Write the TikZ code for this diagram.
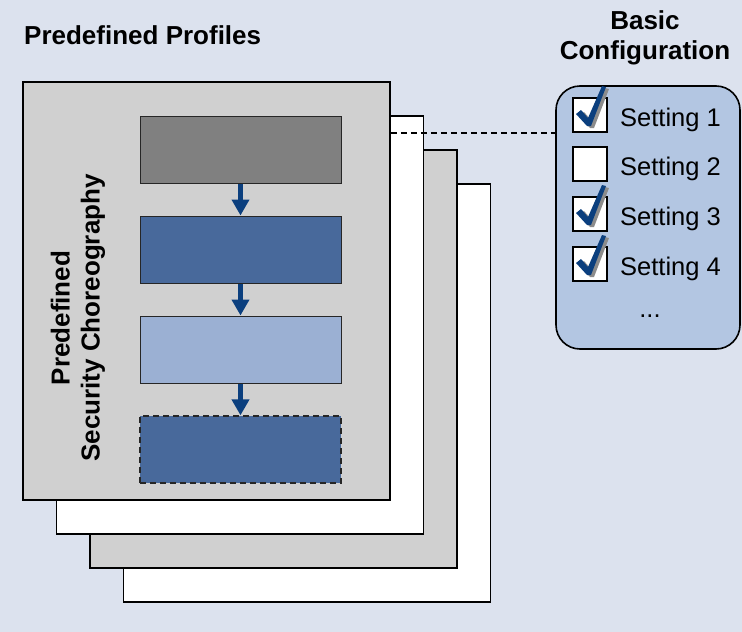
\documentclass[tikz,border=0pt]{standalone}
\usepackage{fontspec}
\setmainfont{Liberation Sans}
\usetikzlibrary{arrows.meta}
\definecolor{bgblue}{HTML}{DCE2EE}
\definecolor{pagegray}{HTML}{D0D0D0}
\definecolor{stepgray}{HTML}{808080}
\definecolor{stepblue}{HTML}{48699B}
\definecolor{steplight}{HTML}{9BB0D3}
\definecolor{navy}{HTML}{0B3F7E}
\definecolor{cfgblue}{HTML}{B3C6E2}
\tikzset{
  page/.style={draw=black, line width=1.6pt, minimum width=367pt, minimum height=418pt, inner sep=0pt},
  stepbox/.style={draw=black!85, line width=1pt, minimum width=201pt, minimum height=67pt, inner sep=0pt},
  flow/.style={navy, line width=4.5pt, -{Triangle[width=17pt,length=16pt]}},
  title/.style={font=\bfseries\fontsize{26}{30}\selectfont, align=center},
  tick/.style={draw=black, line width=1.5pt, fill=white, minimum size=34pt, inner sep=0pt},
  label/.style={anchor=base west, font=\fontsize{25.5}{30}\selectfont, inner sep=0pt},
  checkmark/.pic={
    \fill[black!45] (-11,1) -- (-6,-3) -- (1,5) -- (15,-27) -- (19,-26) -- (4,13) -- (0,13) -- cycle;
    \fill[navy] (-14,-1) -- (-9,-5) -- (-2,3) -- (12,-29) -- (16,-28) -- (1,11) -- (-3,11) -- cycle;
  }
}
\begin{document}
\begin{tikzpicture}[x=1pt,y=-1pt]
  \fill[bgblue] (0,0) rectangle (742,632);
  \useasboundingbox (0,0) rectangle (742,632);

  % stack of profile pages, back to front
  \node[page, fill=white]    (p4) at (307.0,393.0) {};
  \node[page, fill=pagegray] (p3) at (273.5,359.0) {};
  \node[page, fill=white]    (p2) at (240.0,325.0) {};
  \node[page, fill=pagegray] (p1) at (206.5,291.0) {};

  \node[title, anchor=base west, inner sep=0pt] (ptitle) at (24,44) {Predefined Profiles};

  % choreography steps
  \node[stepbox, fill=stepgray]  (s1) at (240.5,149.5) {};
  \node[stepbox, fill=stepblue]  (s2) at (240.5,249.5) {};
  \node[stepbox, fill=steplight] (s3) at (240.5,349.5) {};
  \node[stepbox, fill=stepblue, dashed, dash pattern=on 6pt off 4pt, line width=1.3pt] (s4) at (240.5,449.5) {};
  \draw[flow] (s1) -- (s2);
  \draw[flow] (s2) -- (s3);
  \draw[flow] (s3) -- (s4);

  \node[rotate=90, align=center, font=\bfseries\fontsize{26}{30}\selectfont] (chor) at (78,318)
    {Predefined\\Security Choreography};

  % basic configuration panel
  \node[draw=black, line width=1.6pt, fill=cfgblue, rounded corners=24pt,
        minimum width=184pt, minimum height=263pt, inner sep=0pt] (cfg) at (648,217.5) {};
  \node[title] (ctitle) at (645,38) {Basic\\Configuration};

  \node[tick] (c1) at (590,115) {};
  \node[tick] (c2) at (590,164) {};
  \node[tick] (c3) at (590,214) {};
  \node[tick] (c4) at (590,264) {};
  \pic at (c1) {checkmark};
  \pic at (c3) {checkmark};
  \pic at (c4) {checkmark};
  \node[label] (t1) at (620,126) {Setting 1};
  \node[label] (t2) at (620,175) {Setting 2};
  \node[label] (t3) at (620,225) {Setting 3};
  \node[label] (t4) at (620,275) {Setting 4};
  \node[label, anchor=base] (more) at (650,317) {...};

  \coordinate (link) at (0,133);
  \draw[line width=1.4pt, dash pattern=on 6pt off 4pt] (p1.east |- link) -- (cfg.west |- link);
\end{tikzpicture}
\end{document}
